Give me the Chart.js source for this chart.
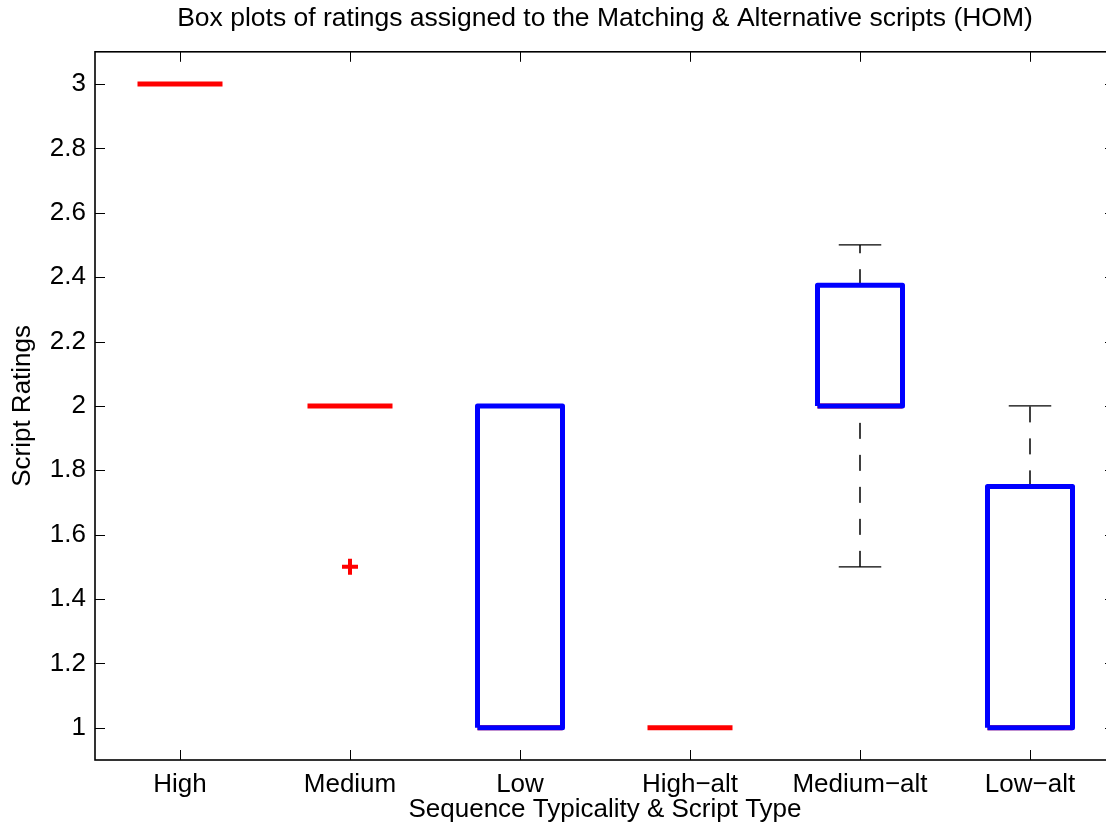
<!DOCTYPE html>
<html>
<head>
<meta charset="utf-8">
<script src="https://cdn.jsdelivr.net/npm/chart.js@4.4.1/dist/chart.umd.min.js"></script>
<style>
  html, body { margin: 0; padding: 0; background: #fff; overflow: hidden; }
  #wrap { width: 1120px; height: 831px; }
  canvas { display: block; }
</style>
</head>
<body>
<div id="wrap"><canvas id="boxChart" width="1120" height="831"></canvas></div>
<script>
// DATA
const categories = ["High", "Medium", "Low", "High\u2212alt", "Medium\u2212alt", "Low\u2212alt"];
const medianValues = [3, 2, 1, 1, 2, 1];
const lowerQuartiles = [3, 2, 1, 1, 2, 1];
const upperQuartiles = [3, 2, 2, 1, 2.375, 1.75];
const lowerWhiskers = [3, 2, 1, 1, 1.5, 1];
const upperWhiskers = [3, 2, 2, 1, 2.5, 2];
const outlierCategories = [2];
const outlierValues = [1.5];
const yTickValues = [1, 1.2, 1.4, 1.6, 1.8, 2, 2.2, 2.4, 2.6, 2.8, 3];

const FONT = "'Liberation Sans', Arial, Helvetica, sans-serif";
const boxHalf = 0.25;   // half box width in category units
const capHalf = 0.125;  // half whisker cap width

Chart.defaults.color = "#000";
Chart.defaults.font.family = FONT;
Chart.defaults.font.size = 26;

// helper: a plain line piece drawn through the scales
function piece(points, color, width, extra) {
  return Object.assign({
    data: points,
    showLine: true,
    borderColor: color,
    backgroundColor: color,
    borderWidth: width,
    pointRadius: 0,
    fill: false
  }, extra || {});
}

const datasets = [];

categories.forEach((cat, i) => {
  const x = i + 1;
  // whiskers (dashed, drawn from low value up to high value)
  if (upperWhiskers[i] > upperQuartiles[i]) {
    datasets.push(piece([{x: x, y: upperQuartiles[i]}, {x: x, y: upperWhiskers[i]}], "#000", 1.5, {borderDash: [16, 16], order: 4}));
    datasets.push(piece([{x: x - capHalf, y: upperWhiskers[i]}, {x: x + capHalf, y: upperWhiskers[i]}], "#000", 1.3, {order: 4}));
  }
  if (lowerWhiskers[i] < lowerQuartiles[i]) {
    datasets.push(piece([{x: x, y: lowerWhiskers[i]}, {x: x, y: lowerQuartiles[i]}], "#000", 1.5, {borderDash: [16, 16], order: 4}));
    datasets.push(piece([{x: x - capHalf, y: lowerWhiskers[i]}, {x: x + capHalf, y: lowerWhiskers[i]}], "#000", 1.3, {order: 4}));
  }
  // median
  datasets.push(piece([{x: x - boxHalf, y: medianValues[i]}, {x: x + boxHalf, y: medianValues[i]}], "#ff0000", 5, {order: 3}));
  // box (only when it has height)
  if (upperQuartiles[i] > lowerQuartiles[i]) {
    datasets.push(piece([
      {x: x - boxHalf, y: lowerQuartiles[i]},
      {x: x - boxHalf, y: upperQuartiles[i]},
      {x: x + boxHalf, y: upperQuartiles[i]},
      {x: x + boxHalf, y: lowerQuartiles[i]},
      {x: x - boxHalf, y: lowerQuartiles[i]}
    ], "#0000ff", 5, {borderJoinStyle: "round", order: 2}));
  }
});

// outliers
datasets.push({
  data: outlierCategories.map((c, k) => ({x: c, y: outlierValues[k]})),
  showLine: false,
  pointStyle: "cross",
  pointRadius: 8,
  borderWidth: 4,
  borderColor: "#ff0000",
  backgroundColor: "#ff0000",
  order: 1
});

// MATLAB style frame with inward ticks
const matlabFrame = {
  id: "matlabFrame",
  afterDraw(chart) {
    const ctx = chart.ctx;
    const a = chart.chartArea;
    const xs = chart.scales.x, ys = chart.scales.y;
    ctx.save();
    ctx.strokeStyle = "#000";
    ctx.lineWidth = 1;
    ctx.beginPath();
    yTickValues.forEach(v => {
      const py = Math.round(ys.getPixelForValue(v)) + 0.5;
      ctx.moveTo(a.left, py); ctx.lineTo(a.left + 10, py);
      ctx.moveTo(a.right, py); ctx.lineTo(a.right - 10, py);
    });
    categories.forEach((c, i) => {
      const px = Math.round(xs.getPixelForValue(i + 1)) + 0.5;
      ctx.moveTo(px, a.bottom); ctx.lineTo(px, a.bottom - 10);
      ctx.moveTo(px, a.top); ctx.lineTo(px, a.top + 10);
    });
    ctx.stroke();
    ctx.lineWidth = 1.6;
    ctx.strokeRect(a.left, a.top, a.right - a.left, a.bottom - a.top);
    ctx.restore();
  }
};

new Chart(document.querySelector("#boxChart"), {
  type: "scatter",
  data: { datasets: datasets },
  options: {
    animation: false,
    responsive: false,
    events: [],
    layout: { autoPadding: false, padding: { left: 0, right: 5, top: 0, bottom: 0 } },
    plugins: {
      legend: { display: false },
      tooltip: { enabled: false },
      title: {
        display: true,
        fullSize: false,
        text: "Box plots of ratings assigned to the Matching & Alternative scripts (HOM)",
        font: { size: 26.5, weight: "normal", family: FONT },
        color: "#000",
        padding: { top: 3, bottom: 17 }
      }
    },
    scales: {
      x: {
        type: "linear",
        min: 0.5,
        max: 6.5,
        grid: { display: false, drawTicks: false },
        border: { display: false },
        afterBuildTicks: s => { s.ticks = categories.map((c, i) => ({ value: i + 1 })); },
        afterFit: s => { s.height = 71; s.paddingLeft = 0; s.paddingRight = 0; },
        ticks: {
          padding: 9,
          maxRotation: 0,
          autoSkip: false,
          callback: v => categories[Math.round(v) - 1]
        },
        title: {
          display: true,
          text: "Sequence Typicality & Script Type",
          font: { size: 26 },
          padding: { top: 0, bottom: 6 }
        }
      },
      y: {
        type: "linear",
        min: 0.9,
        max: 3.1,
        grid: { display: false, drawTicks: false },
        border: { display: false },
        afterBuildTicks: s => { s.ticks = yTickValues.map(v => ({ value: v })); },
        afterFit: s => { s.width = 95; s.paddingTop = 0; s.paddingBottom = 0; },
        ticks: {
          padding: 9,
          autoSkip: false,
          callback: v => String(Number(v.toFixed(2)))
        },
        title: {
          display: true,
          text: "Script Ratings",
          font: { size: 26 },
          padding: { top: 7, bottom: 0 }
        }
      }
    }
  },
  plugins: [matlabFrame]
});
</script>
</body>
</html>
